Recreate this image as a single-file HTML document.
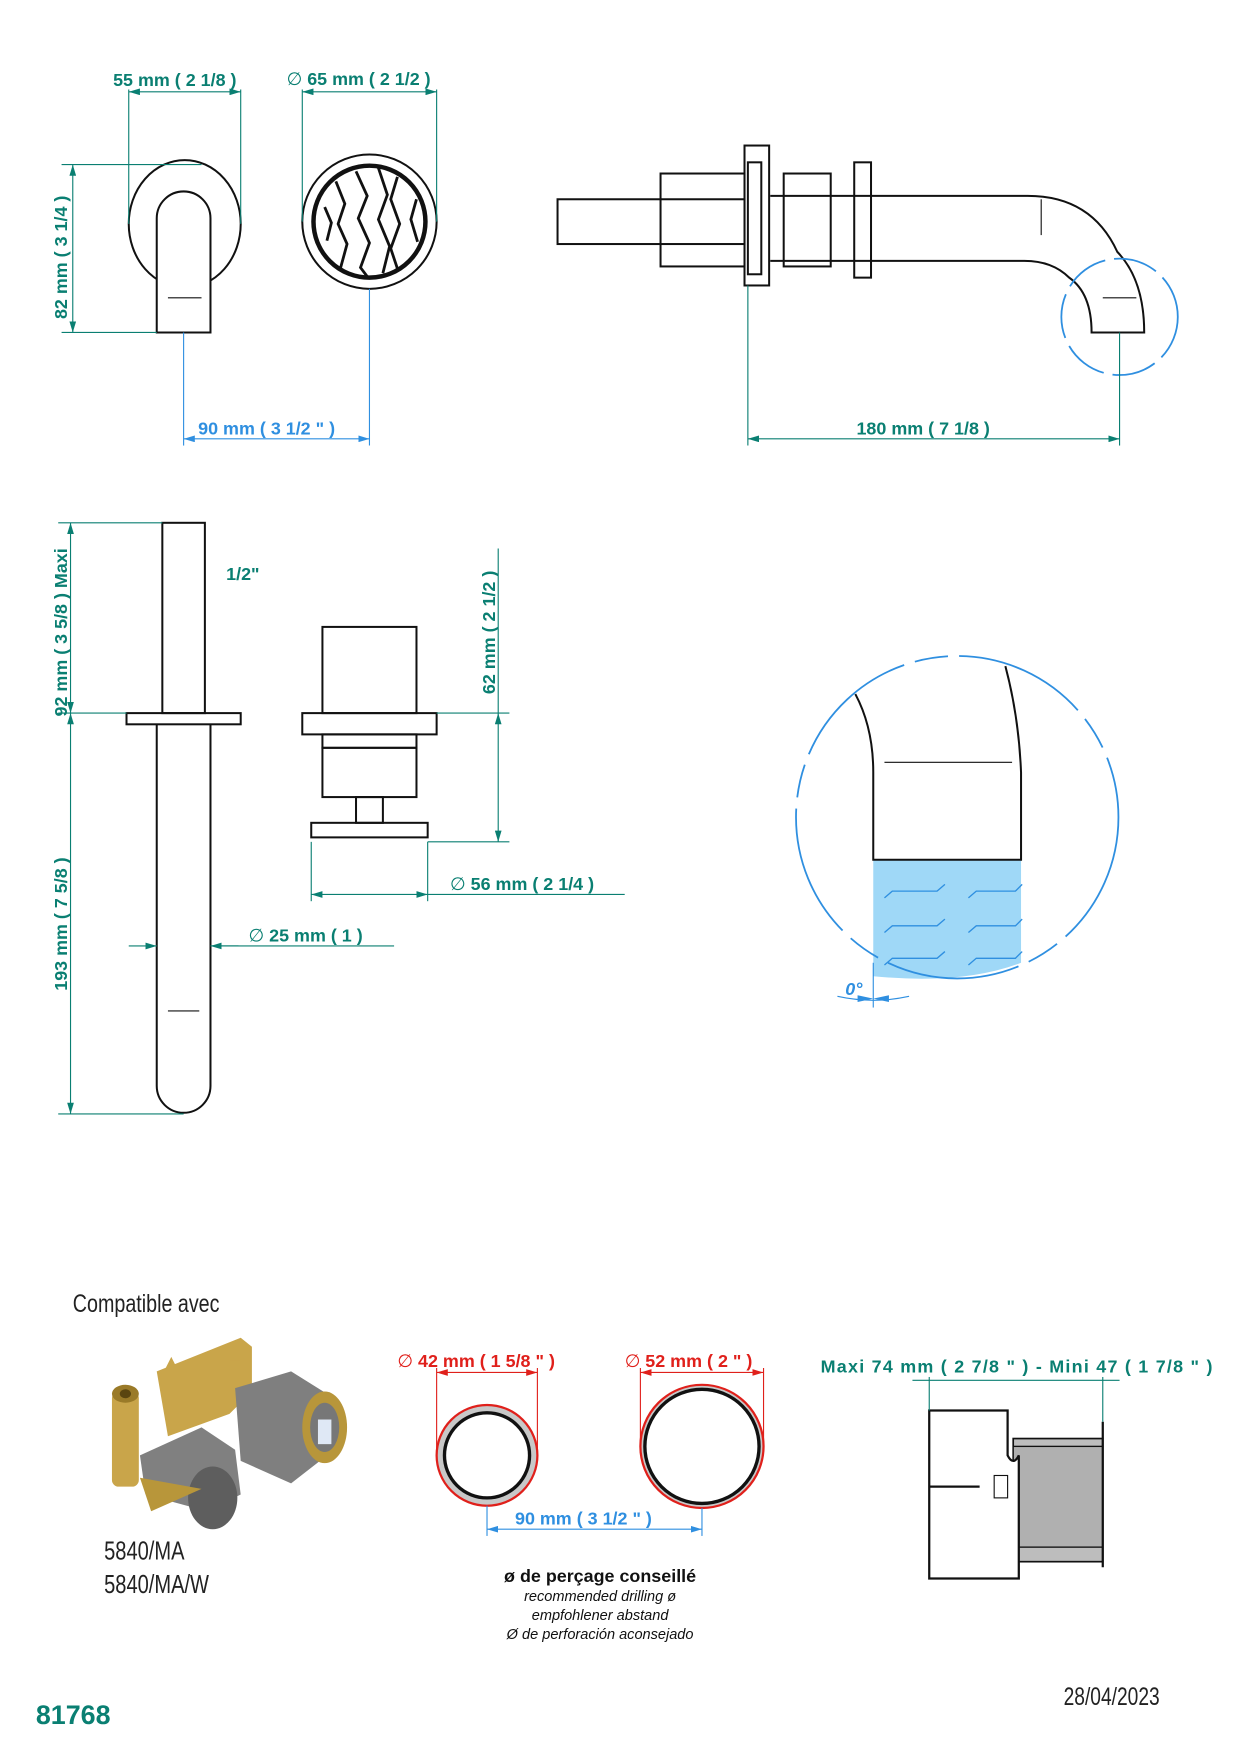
<!DOCTYPE html>
<html><head><meta charset="utf-8"><style>
html,body{margin:0;padding:0;background:#fff}
svg{display:block}
text{font-family:"Liberation Sans",sans-serif}
.t{fill:#0a7f72;font-weight:bold;font-size:16px}
.b{fill:#2f8fe0;font-weight:bold;font-size:16px}
.r{fill:#e0201b;font-weight:bold;font-size:16px}
.k{fill:none;stroke:#111;stroke-width:1.8}
.tl{stroke:#0a7f72;stroke-width:1;fill:none}
.bl{stroke:#2f8fe0;stroke-width:1;fill:none}
.rl{stroke:#e0201b;stroke-width:1;fill:none}
</style></head><body>
<svg width="1236" height="1752" viewBox="0 0 1104 1565" preserveAspectRatio="none" xmlns="http://www.w3.org/2000/svg">
<defs>
<marker id="at" viewBox="0 0 10 6" refX="10" refY="3" markerWidth="10" markerHeight="6" orient="auto-start-reverse"><path d="M0,0L10,3L0,6z" fill="#0a7f72"/></marker>
<marker id="ab" viewBox="0 0 10 6" refX="10" refY="3" markerWidth="10" markerHeight="6" orient="auto-start-reverse"><path d="M0,0L10,3L0,6z" fill="#2f8fe0"/></marker>
<marker id="ar" viewBox="0 0 10 6" refX="10" refY="3" markerWidth="10" markerHeight="6" orient="auto-start-reverse"><path d="M0,0L10,3L0,6z" fill="#e0201b"/></marker>
</defs>

<!-- Top-left lever -->
<ellipse class="k" cx="165" cy="200" rx="50" ry="57"/>
<path d="M140,297V195a24,24 0 0 1 48,0V297Z" fill="#fff" stroke="#111" stroke-width="1.8"/>
<line x1="150" y1="266" x2="180" y2="266" stroke="#111"/>
<line class="tl" x1="115" y1="80" x2="115" y2="200"/><line class="tl" x1="215" y1="80" x2="215" y2="200"/>
<line class="tl" x1="115" y1="82" x2="215" y2="82" marker-start="url(#at)" marker-end="url(#at)"/>
<text class="t" x="101" y="77">55 mm ( 2 1/8 )</text>
<line class="tl" x1="55" y1="147" x2="180" y2="147"/><line class="tl" x1="55" y1="297" x2="140" y2="297"/>
<line class="tl" x1="65" y1="147" x2="65" y2="297" marker-start="url(#at)" marker-end="url(#at)"/>
<text class="t" transform="translate(60,285) rotate(-90)">82 mm ( 3 1/4 )</text>

<!-- Handle front -->
<circle class="k" cx="330" cy="198" r="60"/>
<circle cx="330" cy="198" r="50" fill="none" stroke="#111" stroke-width="4"/>
<g stroke="#111" stroke-width="2.5" fill="none">
<path d="M300,162 l8,20 -6,18 8,18 -6,22"/><path d="M318,153 l10,22 -8,20 10,22 -8,22 6,8"/>
<path d="M338,150 l8,24 -8,22 10,24 -6,24"/><path d="M355,158 l-6,20 8,22 -8,22 6,18"/>
<path d="M290,185 l6,14 -4,16"/><path d="M372,178 l-5,18 6,20"/>
</g>
<line class="tl" x1="270" y1="80" x2="270" y2="198"/><line class="tl" x1="390" y1="80" x2="390" y2="198"/>
<line class="tl" x1="270" y1="82" x2="390" y2="82" marker-start="url(#at)" marker-end="url(#at)"/>
<text class="t" x="256" y="76"><tspan font-weight="normal">∅</tspan> 65 mm ( 2 1/2 )</text>
<line class="bl" x1="164" y1="297" x2="164" y2="398"/><line class="bl" x1="330" y1="258" x2="330" y2="398"/>
<line class="bl" x1="164" y1="392" x2="330" y2="392" marker-start="url(#ab)" marker-end="url(#ab)"/>
<text class="b" x="177" y="388">90 mm ( 3 1/2 " )</text>

<!-- Spout side -->
<rect class="k" x="498" y="178" width="167" height="40"/>
<rect class="k" x="590" y="155" width="75" height="83"/>
<rect class="k" x="665" y="130" width="22" height="125"/>
<rect class="k" x="668" y="145" width="12" height="100"/>
<rect class="k" x="700" y="155" width="42" height="83"/>
<rect class="k" x="763" y="145" width="15" height="103"/>
<path class="k" d="M688,175H918Q975,175 998,225Q1022,250 1022,297H975Q975,262 955,248Q940,233 915,233H688"/>
<line x1="930" y1="178" x2="930" y2="210" stroke="#111"/>
<line x1="985" y1="266" x2="1015" y2="266" stroke="#111"/>
<circle cx="1000" cy="283" r="52" fill="none" stroke="#2f8fe0" stroke-width="1.6" stroke-dasharray="40 8"/>
<line class="tl" x1="668" y1="255" x2="668" y2="398"/><line class="tl" x1="1000" y1="297" x2="1000" y2="398"/>
<line class="tl" x1="668" y1="392" x2="1000" y2="392" marker-start="url(#at)" marker-end="url(#at)"/>
<text class="t" x="765" y="388">180 mm ( 7 1/8 )</text>

<!-- Middle shaft -->
<rect class="k" x="145" y="467" width="38" height="170"/>
<rect class="k" x="113" y="637" width="102" height="10"/>
<path class="k" d="M140,647V970a24,24 0 0 0 48,0V647"/>
<line x1="150" y1="903" x2="178" y2="903" stroke="#111"/>
<text class="t" x="202" y="518">1/2"</text>
<line class="tl" x1="52" y1="467" x2="145" y2="467"/><line class="tl" x1="52" y1="637" x2="113" y2="637"/><line class="tl" x1="52" y1="995" x2="164" y2="995"/>
<line class="tl" x1="63" y1="467" x2="63" y2="637" marker-start="url(#at)" marker-end="url(#at)"/>
<line class="tl" x1="63" y1="637" x2="63" y2="995" marker-start="url(#at)" marker-end="url(#at)"/>
<text class="t" transform="translate(60,640) rotate(-90)">92 mm ( 3 5/8 )  Maxi</text>
<text class="t" transform="translate(60,885) rotate(-90)">193 mm ( 7 5/8 )</text>
<line class="tl" x1="115" y1="845" x2="140" y2="845" marker-end="url(#at)"/>
<line class="tl" x1="213" y1="845" x2="188" y2="845" marker-end="url(#at)"/>
<line class="tl" x1="188" y1="845" x2="352" y2="845"/>
<text class="t" x="222" y="841"><tspan font-weight="normal">∅</tspan>  25 mm ( 1 )</text>

<!-- Cartridge -->
<rect class="k" x="288" y="560" width="84" height="77"/>
<rect class="k" x="270" y="637" width="120" height="19"/>
<rect class="k" x="288" y="656" width="84" height="12"/>
<rect class="k" x="288" y="668" width="84" height="44"/>
<rect class="k" x="318" y="712" width="24" height="23"/>
<rect class="k" x="278" y="735" width="104" height="13"/>
<line class="tl" x1="390" y1="637" x2="455" y2="637"/><line class="tl" x1="382" y1="752" x2="455" y2="752"/>
<line class="tl" x1="445" y1="490" x2="445" y2="637"/>
<line class="tl" x1="445" y1="637" x2="445" y2="752" marker-start="url(#at)" marker-end="url(#at)"/>
<text class="t" transform="translate(442,620) rotate(-90)">62 mm ( 2 1/2 )</text>
<line class="tl" x1="278" y1="752" x2="278" y2="805"/><line class="tl" x1="382" y1="752" x2="382" y2="805"/>
<line class="tl" x1="278" y1="799" x2="382" y2="799" marker-start="url(#at)" marker-end="url(#at)"/>
<line class="tl" x1="382" y1="799" x2="558" y2="799"/>
<text class="t" x="402" y="795"><tspan font-weight="normal">∅</tspan>  56 mm ( 2 1/4 )</text>

<!-- Detail circle -->
<path d="M780,768H912V860Q860,880 780,872Z" fill="#9fd8f7"/>
<circle cx="855" cy="730" r="144" fill="none" stroke="#2f8fe0" stroke-width="1.6" stroke-dasharray="120 10 30 10"/>
<path class="k" d="M764,620Q780,650 780,690V768H912V690Q910,640 898,595" stroke-width="2.2"/>
<line x1="790" y1="681" x2="904" y2="681" stroke="#111"/>
<g stroke="#2f8fe0" fill="none" stroke-width="1.2">
<path d="M790,802l7,-6h40l7,-6"/><path d="M865,802l7,-6h35l6,-6"/>
<path d="M790,833l7,-6h40l7,-6"/><path d="M865,833l7,-6h35l6,-6"/>
<path d="M790,862l7,-6h40l7,-6"/><path d="M865,862l7,-6h35l6,-6"/>
</g>
<line class="bl" x1="780" y1="860" x2="780" y2="900"/>
<path class="bl" d="M748,890Q780,897 812,890"/>
<path d="M766,889l14,3-14,3z M794,889l-14,3 14,3z" fill="#2f8fe0"/>
<text class="b" x="755" y="889" font-style="italic">0°</text>

<!-- Bottom -->
<text x="65" y="1172" font-size="22" fill="#222" transform="translate(65,1172) scale(0.8,1) translate(-65,-1172)">Compatible avec</text>
<g>
<path d="M140,1225l75,-30 10,8 0,40 -20,20 -55,20z" fill="#c9a54a"/>
<path d="M148,1222l5,-10 5,10z M205,1215l5,-10 5,10z" fill="#c9a54a"/>
<rect x="100" y="1243" width="24" height="85" rx="6" fill="#c9a54a"/>
<ellipse cx="112" cy="1245" rx="12" ry="8" fill="#9a7a28"/>
<ellipse cx="112" cy="1245" rx="5" ry="4" fill="#5a4510"/>
<path d="M210,1240l50,-15 40,25 5,40 -45,35 -45,-20z" fill="#7f7f7f"/>
<ellipse cx="290" cy="1275" rx="20" ry="32" fill="#b8963a"/>
<ellipse cx="290" cy="1275" rx="13" ry="22" fill="#777"/>
<rect x="284" y="1268" width="12" height="22" fill="#dfe8f5"/>
<path d="M125,1300l55,-25 30,20 5,40 -30,15 -55,-15z" fill="#808080"/>
<ellipse cx="190" cy="1338" rx="22" ry="28" fill="#5e5e5e"/>
<path d="M125,1320l10,30 45,-20z" fill="#b8963a"/>
</g>
<text x="93" y="1393" font-size="23" fill="#222" transform="translate(93,1393) scale(0.78,1) translate(-93,-1393)">5840/MA</text>
<text x="93" y="1423" font-size="23" fill="#222" transform="translate(93,1423) scale(0.78,1) translate(-93,-1423)">5840/MA/W</text>

<circle cx="435" cy="1300" r="45" fill="#c8c8c8" stroke="#e0201b" stroke-width="2"/>
<circle cx="435" cy="1300" r="38" fill="#fff" stroke="#111" stroke-width="3"/>
<circle cx="627" cy="1292" r="55" fill="#c8c8c8" stroke="#e0201b" stroke-width="2"/>
<circle cx="627" cy="1292" r="51" fill="#fff" stroke="#111" stroke-width="3"/>
<line class="rl" x1="390" y1="1222" x2="390" y2="1300"/><line class="rl" x1="480" y1="1222" x2="480" y2="1300"/>
<line class="rl" x1="390" y1="1226" x2="480" y2="1226" marker-start="url(#ar)" marker-end="url(#ar)"/>
<text class="r" x="355" y="1221"><tspan font-weight="normal">∅</tspan>  42 mm ( 1 5/8 " )</text>
<line class="rl" x1="572" y1="1222" x2="572" y2="1292"/><line class="rl" x1="682" y1="1222" x2="682" y2="1292"/>
<line class="rl" x1="572" y1="1226" x2="682" y2="1226" marker-start="url(#ar)" marker-end="url(#ar)"/>
<text class="r" x="558" y="1221"><tspan font-weight="normal">∅</tspan>  52 mm ( 2 " )</text>
<line class="bl" x1="435" y1="1345" x2="435" y2="1372"/><line class="bl" x1="627" y1="1347" x2="627" y2="1372"/>
<line class="bl" x1="435" y1="1366" x2="627" y2="1366" marker-start="url(#ab)" marker-end="url(#ab)"/>
<text class="b" x="460" y="1362">90 mm ( 3 1/2 " )</text>
<text x="536" y="1413" text-anchor="middle" font-size="16" font-weight="bold" fill="#111">ø de perçage conseillé</text>
<text x="536" y="1430" text-anchor="middle" font-size="13" font-style="italic" fill="#111">recommended drilling ø</text>
<text x="536" y="1447" text-anchor="middle" font-size="13" font-style="italic" fill="#111">empfohlener abstand</text>
<text x="536" y="1464" text-anchor="middle" font-size="13" font-style="italic" fill="#111">Ø de perforación aconsejado</text>

<rect x="905" y="1285" width="80" height="110" fill="#bdbdbd" stroke="#111" stroke-width="1.5"/>
<rect x="905" y="1292" width="80" height="90" fill="#b0b0b0" stroke="#111" stroke-width="1.2"/>
<path d="M830,1260H900V1300Q905,1310 910,1300V1410H830Z" fill="#fff" stroke="#111" stroke-width="2"/>
<line x1="830" y1="1328" x2="875" y2="1328" stroke="#111" stroke-width="2"/>
<line x1="985" y1="1270" x2="985" y2="1400" stroke="#111" stroke-width="2"/>
<rect x="888" y="1318" width="12" height="20" fill="none" stroke="#111"/>
<line class="tl" x1="830" y1="1230" x2="830" y2="1260"/><line class="tl" x1="985" y1="1230" x2="985" y2="1270"/>
<line class="tl" x1="815" y1="1233" x2="1000" y2="1233"/>
<text class="t" x="733" y="1226" textLength="350" lengthAdjust="spacing">Maxi  74 mm ( 2 7/8 " )  - Mini 47 ( 1 7/8 " )</text>

<text x="32" y="1540" font-size="24" font-weight="bold" fill="#0a7f72">81768</text>
<text x="950" y="1523" font-size="22" fill="#222" transform="translate(950,1523) scale(0.78,1) translate(-950,-1523)">28/04/2023</text>
</svg>
</body></html>
